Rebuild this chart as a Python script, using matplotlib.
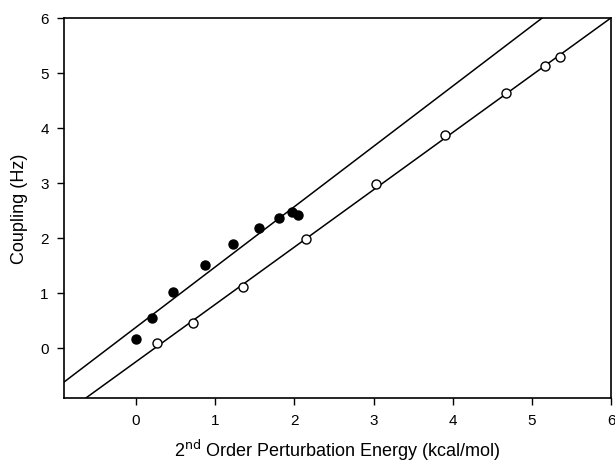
import numpy as np
import matplotlib
matplotlib.use("Agg")
import matplotlib.pyplot as plt

plt.rcParams['font.family'] = ['Liberation Sans', 'DejaVu Sans']

# Filled circles series
filled_x = [0.00, 0.20, 0.47, 0.87, 1.23, 1.55, 1.81, 1.97, 2.04]
filled_y = [0.16, 0.54, 1.01, 1.51, 1.89, 2.19, 2.37, 2.47, 2.42]
# Open circles series
open_x = [0.27, 0.72, 1.35, 2.15, 3.03, 3.90, 4.67, 5.16, 5.35]
open_y = [0.09, 0.45, 1.11, 1.98, 2.98, 3.88, 4.64, 5.12, 5.29]
# Fit lines (slope, intercept)
filled_fit = (1.096, 0.377)
open_fit = (1.042, -0.25)

xticks = [0, 1, 2, 3, 4, 5, 6]
yticks = [0, 1, 2, 3, 4, 5, 6]

fig = plt.figure(figsize=(6.15, 4.64), dpi=100)
ax = fig.add_axes([64/615, 1 - 399/464, (611-64)/615, (399-19)/464])

xlim = (-0.91, 6.0)
ylim = (-0.91, 6.0)
xs = np.linspace(xlim[0], xlim[1], 200)
ax.plot(xs, np.polyval(filled_fit, xs), color='black', lw=1.1)
ax.plot(xs, np.polyval(open_fit, xs), color='black', lw=1.1)

ax.plot(filled_x, filled_y, 'o', color='black', markersize=6.5, zorder=3)
ax.plot(open_x, open_y, 'o', markerfacecolor='white', markeredgecolor='black',
        markeredgewidth=1.0, markersize=6.5, zorder=3)

ax.set_xlim(*xlim)
ax.set_ylim(*ylim)
ax.set_xticks(xticks)
ax.set_yticks(yticks)
ax.tick_params(direction='out', length=5, width=1, labelsize=11, pad=6)
for s in ax.spines.values():
    s.set_linewidth(1.2)

ax.set_xlabel('2$^{\\mathrm{nd}}$ Order Perturbation Energy (kcal/mol)', fontsize=13)
ax.set_ylabel('Coupling (Hz)', fontsize=13)
ax.xaxis.set_label_coords(0.5, -51/380, transform=ax.transAxes)
ax.yaxis.set_label_coords(-44/547, 0.5, transform=ax.transAxes)
ax.xaxis.label.set_va('center')
ax.yaxis.label.set_va('center')

fig.savefig('out.png', dpi=100)
